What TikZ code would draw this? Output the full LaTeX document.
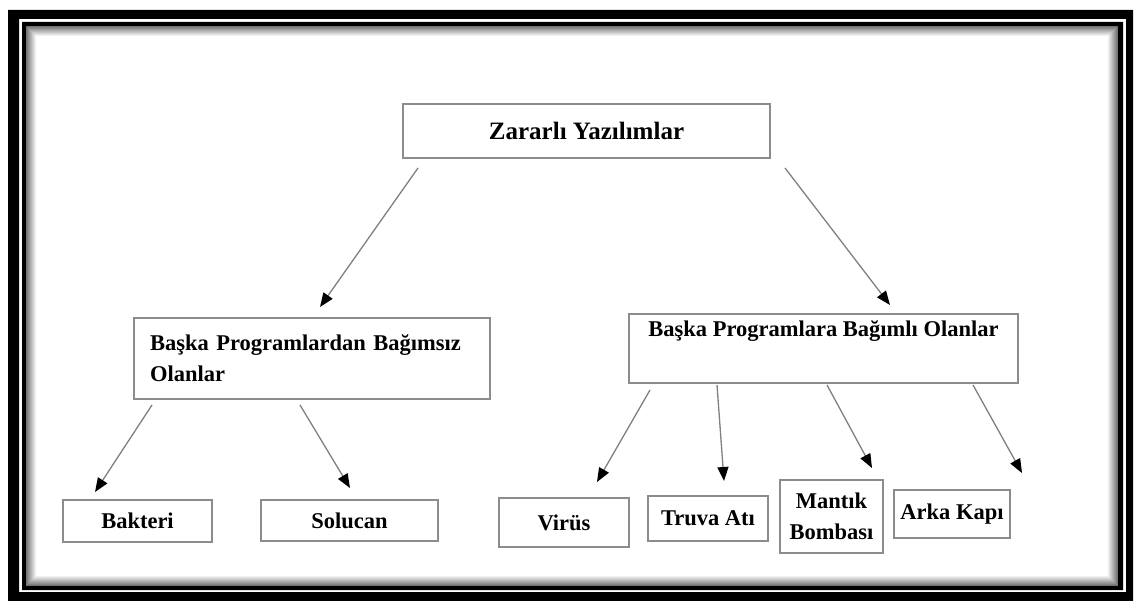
\documentclass[tikz,border=0pt]{standalone}
\usepackage{fontspec}
\setmainfont{Liberation Serif}
\usetikzlibrary{arrows.meta}
\definecolor{boxgray}{gray}{0.55}
\definecolor{arrgray}{gray}{0.5}
\begin{document}
\begin{tikzpicture}[x=1pt,y=-1pt,
  box/.style={draw=boxgray, line width=1.4pt, inner sep=0pt,
    font=\fontsize{22.5}{31}\selectfont\bfseries, align=center},
  arr/.style={draw=arrgray, line width=1.3pt,
    -{Triangle[length=14pt,width=11pt,color=black,fill=black]}}]
\useasboundingbox (0,0) rectangle (1134,601);
\fill[white] (0,0) rectangle (1134,601);
% frame
\fill[black,even odd rule] (8,10) rectangle (1133,601) (19,19) rectangle (1126,592);
\fill[black,even odd rule] (22,22) rectangle (1123,590) (26,26) rectangle (1118,586);
\foreach \i in {0,...,9}{
  \pgfmathsetmacro\g{55-5.5*\i}
  \draw[line width=1pt, black!\g] (26.5+\i,26.5+\i) rectangle (1117.5-\i,585.5-\i);
}
% nodes
\node[box, minimum width=367, minimum height=54, font=\fontsize{25}{31}\selectfont\bfseries] (root) at (586.5,131) {Zararlı Yazılımlar};
\node[box, minimum width=356, minimum height=81, text width=324, align=left] (indep) at (312,358.5) {Başka Programlardan Bağımsız\\Olanlar};
\node[box, minimum width=389, minimum height=69] (dep) at (823.5,348.5) {Başka Programlara Bağımlı Olanlar\\\strut};
\node[box, minimum width=149, minimum height=42] (bakteri) at (137.5,521) {Bakteri};
\node[box, minimum width=177, minimum height=41] (solucan) at (349.5,520.5) {Solucan};
\node[box, minimum width=130, minimum height=49] (virus) at (564,522.5) {Virüs};
\node[box, minimum width=120, minimum height=45] (truva) at (708,518.5) {Truva Atı};
\node[box, minimum width=103, minimum height=73] (mantik) at (831.5,516.5) {Mantık\\Bombası};
\node[box, minimum width=116, minimum height=48] (arka) at (952,514) {Arka Kapı};
% connector ends
\coordinate (s1) at (418,168); \coordinate (t1) at (320,307);
\coordinate (s2) at (785,168); \coordinate (t2) at (890,305);
\coordinate (s3) at (152,405); \coordinate (t3) at (95,492);
\coordinate (s4) at (300,405); \coordinate (t4) at (350,488);
\coordinate (s5) at (650,390); \coordinate (t5) at (597,482);
\coordinate (s6) at (717,385); \coordinate (t6) at (724,481);
\coordinate (s7) at (827,385); \coordinate (t7) at (872,468);
\coordinate (s8) at (973,385); \coordinate (t8) at (1022,473);
\draw[arr] (s1) -- (t1);
\draw[arr] (s2) -- (t2);
\draw[arr] (s3) -- (t3);
\draw[arr] (s4) -- (t4);
\draw[arr] (s5) -- (t5);
\draw[arr] (s6) -- (t6);
\draw[arr] (s7) -- (t7);
\draw[arr] (s8) -- (t8);
\end{tikzpicture}
\end{document}
